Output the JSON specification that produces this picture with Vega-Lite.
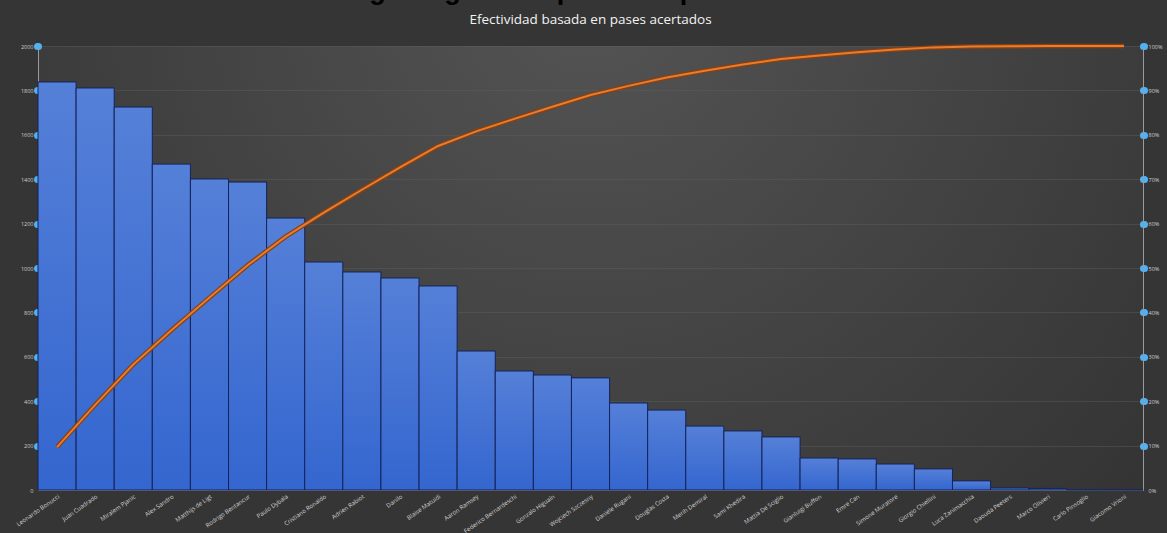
{
  "$schema": "https://vega.github.io/schema/vega-lite/v6.json",
  "width": 1105,
  "height": 444,
  "autosize": {"type": "none"},
  "padding": {"left": 38, "top": 46, "right": 24, "bottom": 43},
  "background": "#353535",
  "title": {
    "text": "Figura: gráficos para interpretar datos",
    "subtitle": "Efectividad basada en pases acertados",
    "color": "#000000",
    "font": "Liberation Sans",
    "fontSize": 27,
    "fontWeight": "bold",
    "subtitleColor": "#f2f2f2",
    "subtitleFont": "Open Sans",
    "subtitleFontSize": 13.5,
    "subtitlePadding": 8,
    "offset": 10,
    "anchor": "middle"
  },
  "config": {
    "view": {
      "stroke": null,
      "fill": {
        "gradient": "radial",
        "x1": 0.5, "y1": 0.25, "r1": 0,
        "x2": 0.5, "y2": 0.25, "r2": 0.75,
        "stops": [
          {"offset": 0, "color": "#545454"},
          {"offset": 1, "color": "#303030"}
        ]
      }
    },
    "axis": {"labelFont": "Open Sans"}
  },
  "data": {
    "values": [
      {"jugador": "Leonardo Bonucci", "pases": 1838, "acumulado": 0.0966},
      {"jugador": "Juan Cuadrado", "pases": 1811, "acumulado": 0.1918},
      {"jugador": "Miralem Pjanic", "pases": 1725, "acumulado": 0.2825},
      {"jugador": "Alex Sandro", "pases": 1468, "acumulado": 0.3597},
      {"jugador": "Matthijs de Ligt", "pases": 1401, "acumulado": 0.4333},
      {"jugador": "Rodrigo Bentancur", "pases": 1387, "acumulado": 0.5062},
      {"jugador": "Paulo Dybala", "pases": 1225, "acumulado": 0.5706},
      {"jugador": "Cristiano Ronaldo", "pases": 1027, "acumulado": 0.6246},
      {"jugador": "Adrien Rabiot", "pases": 982, "acumulado": 0.6762},
      {"jugador": "Danilo", "pases": 955, "acumulado": 0.7264},
      {"jugador": "Blaise Matuidi", "pases": 919, "acumulado": 0.7748},
      {"jugador": "Aaron Ramsey", "pases": 626, "acumulado": 0.8077},
      {"jugador": "Federico Bernardeschi", "pases": 536, "acumulado": 0.8358},
      {"jugador": "Gonzalo Higuaín", "pases": 518, "acumulado": 0.8631},
      {"jugador": "Wojciech Szczesny", "pases": 505, "acumulado": 0.8896},
      {"jugador": "Daniele Rugani", "pases": 392, "acumulado": 0.9102},
      {"jugador": "Douglas Costa", "pases": 360, "acumulado": 0.9291},
      {"jugador": "Merih Demiral", "pases": 288, "acumulado": 0.9443},
      {"jugador": "Sami Khedira", "pases": 266, "acumulado": 0.9583},
      {"jugador": "Mattia De Sciglio", "pases": 239, "acumulado": 0.9708},
      {"jugador": "Gianluigi Buffon", "pases": 144, "acumulado": 0.9784},
      {"jugador": "Emre Can", "pases": 140, "acumulado": 0.9858},
      {"jugador": "Simone Muratore", "pases": 117, "acumulado": 0.9919},
      {"jugador": "Giorgio Chiellini", "pases": 95, "acumulado": 0.9969},
      {"jugador": "Luca Zanimacchia", "pases": 41, "acumulado": 0.9991},
      {"jugador": "Daouda Peeters", "pases": 9, "acumulado": 0.9995},
      {"jugador": "Marco Olivieri", "pases": 7, "acumulado": 0.9999},
      {"jugador": "Carlo Pinsoglio", "pases": 1, "acumulado": 0.99995},
      {"jugador": "Giacomo Vrioni", "pases": 1, "acumulado": 1.0}
    ]
  },
  "encoding": {
    "x": {
      "field": "jugador",
      "type": "nominal",
      "sort": null,
      "scale": {"paddingInner": 0, "paddingOuter": 0},
      "axis": {
        "title": null,
        "labelAngle": -35,
        "labelFontSize": 6,
        "labelColor": "#d4d4d4",
        "labelPadding": 3,
        "ticks": false,
        "domainColor": "#8c8c8c",
        "domainWidth": 1,
        "labelLimit": 120
      }
    }
  },
  "layer": [
    {
      "mark": {
        "type": "bar",
        "color": {
          "gradient": "linear",
          "x1": 0, "y1": 0, "x2": 0, "y2": 1,
          "stops": [
            {"offset": 0, "color": "#5580d8"},
            {"offset": 1, "color": "#3466cf"}
          ]
        },
        "stroke": "#15235a",
        "strokeWidth": 1
      },
      "encoding": {
        "y": {
          "field": "pases",
          "type": "quantitative",
          "scale": {"domain": [0, 2000], "nice": false},
          "axis": {
            "title": null,
            "orient": "left",
            "format": "d",
            "values": [0, 200, 400, 600, 800, 1000, 1200, 1400, 1600, 1800, 2000],
            "labelFontSize": 5.5,
            "labelColor": "#cfcfcf",
            "labelPadding": 4,
            "tickSize": 1,
            "tickWidth": 7,
            "tickCap": "round",
            "tickColor": {"condition": {"test": "datum.value == 0", "value": "transparent"}, "value": "#4db2f6"},
            "domainColor": "#9a9a9a",
            "grid": true,
            "gridColor": "#606060",
            "gridOpacity": 0.6,
            "gridWidth": 0.7
          }
        }
      }
    },
    {
      "encoding": {
        "y": {
          "field": "acumulado",
          "type": "quantitative",
          "scale": {"domain": [0, 1], "nice": false},
          "axis": {
            "title": null,
            "orient": "right",
            "format": ".0%",
            "values": [0, 0.1, 0.2, 0.3, 0.4, 0.5, 0.6, 0.7, 0.8, 0.9, 1],
            "labelFontSize": 5.5,
            "labelColor": "#cfcfcf",
            "labelPadding": 4,
            "tickSize": 1,
            "tickWidth": 7,
            "tickCap": "round",
            "tickColor": {"condition": {"test": "datum.value == 0", "value": "transparent"}, "value": "#4db2f6"},
            "domainColor": "#9a9a9a",
            "grid": false
          }
        }
      },
      "layer": [
        {"mark": {"type": "line", "color": "#8a400e", "strokeWidth": 4.5}},
        {"mark": {"type": "line", "color": "#e67d31", "strokeWidth": 2}}
      ]
    }
  ],
  "resolve": {"scale": {"y": "independent"}}
}
